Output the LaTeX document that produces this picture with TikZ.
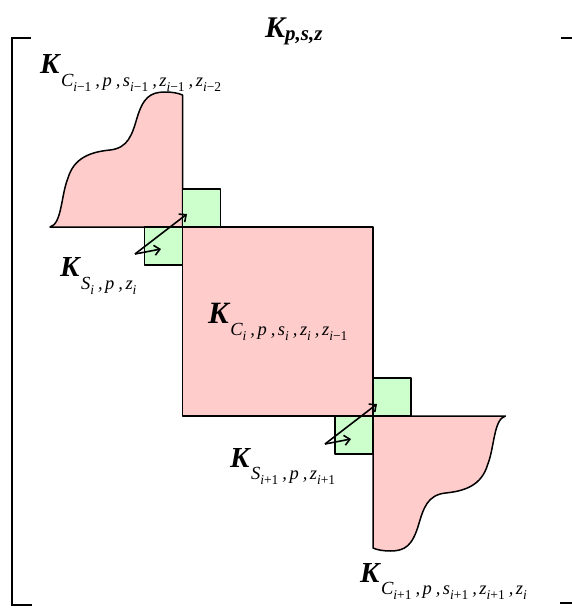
\documentclass[tikz,border=0pt]{standalone}
\usepackage{fontspec}
\setmainfont{Liberation Serif}
\usetikzlibrary{arrows.meta}
\definecolor{pinkfill}{HTML}{FFCCCC}
\definecolor{greenfill}{HTML}{CCFFCC}
\newcommand\bigK[1]{{\fontsize{#1}{#1}\selectfont\bfseries\itshape K}}
\newcommand\subA[1]{\hspace{1.5pt}\raisebox{-12.5pt}{\fontsize{18.5}{18.5}\selectfont\itshape #1}}
\newcommand\lo[1]{\raisebox{-5pt}{\fontsize{13.5}{13.5}\selectfont\itshape #1}}
\newcommand\cm{\hspace{4pt},\hspace{2.5pt}}
\begin{document}
\begin{tikzpicture}[x=1pt,y=-1pt,
  box/.style={draw=black,line width=1.5pt,line join=round},
  pinkbox/.style={box,fill=pinkfill},
  greenbox/.style={box,fill=greenfill},
  arr/.style={-{Straight Barb[length=5.5pt,width=10pt]},line width=1.6pt},
  lbl/.style={anchor=base west,inner sep=0pt},
  brk/.style={line width=1.8pt}]
\useasboundingbox (0,0) rectangle (572,608);
% brackets
\draw[brk] (31,38) -- (12,38) -- (12,605) -- (32,605);
\draw[brk] (561,38) -- (572,38);
\draw[brk] (560,603) -- (572,603);
% pink curved blocks
\path[pinkbox] (182.5,227) -- (50,227)
  .. controls (62,224) and (61,195) .. (68,178)
  .. controls (74,158) and (90,152) .. (110,150)
  .. controls (128,148) and (132,135) .. (137,118)
  .. controls (143,98) and (150,92) .. (165,92)
  .. controls (172,92) and (178,93) .. (182.5,95) -- cycle;
\begin{scope}[rotate around={180:(277.75,321.5)}]
\path[pinkbox] (182.5,227) -- (50,227)
  .. controls (62,224) and (61,195) .. (68,178)
  .. controls (74,158) and (90,152) .. (110,150)
  .. controls (128,148) and (132,135) .. (137,118)
  .. controls (143,98) and (150,92) .. (165,92)
  .. controls (172,92) and (178,93) .. (182.5,95) -- cycle;
\end{scope}
% main block
\path[pinkbox] (182.5,227) rectangle (373,416);
% green blocks
\path[greenbox] (182.5,189) rectangle (220.5,227);
\path[greenbox] (144.5,227) rectangle (182.5,265);
\path[greenbox] (373,378) rectangle (411,416);
\path[greenbox] (335,416) rectangle (373,454);
% arrows
\coordinate (a1s) at (135,254);
\coordinate (a1e) at (187,214);
\coordinate (a1f) at (161,249);
\coordinate (a2s) at (325,444);
\coordinate (a2e) at (377,404);
\coordinate (a2f) at (351,439);
\draw[arr] (a1s) -- (a1e);
\draw[arr] (a1s) -- (a1f);
\draw[arr] (a2s) -- (a2e);
\draw[arr] (a2s) -- (a2f);
% labels
\node[lbl] (title) at (265,37) {\bigK{30}\raisebox{-3pt}{\fontsize{21}{21}\selectfont\bfseries\itshape p,s,z}};
\node[lbl] (lc1) at (40,73.5) {\bigK{29}\subA{C\lo{i\upshape −1}\cm p\cm s\lo{i\upshape −1}\cm z\lo{i\upshape −1}\cm z\lo{i\upshape −2}}};
\node[lbl] (ls1) at (60,276.5) {\bigK{29}\subA{S\lo{i}\cm p\cm z\lo{i}}};
\node[lbl] (lc2) at (208,323) {\bigK{31}\subA{C\lo{i}\cm p\cm s\lo{i}\cm z\lo{i}\cm z\lo{i\upshape −1}}};
\node[lbl] (ls2) at (230,467) {\bigK{29}\subA{S\lo{i\upshape +1}\cm p\cm z\lo{i\upshape +1}}};
\node[lbl] (lc3) at (360,582) {\bigK{29}\subA{C\lo{i\upshape +1}\cm p\cm s\lo{i\upshape +1}\cm z\lo{i\upshape +1}\cm z\lo{i}}};
\end{tikzpicture}
\end{document}
